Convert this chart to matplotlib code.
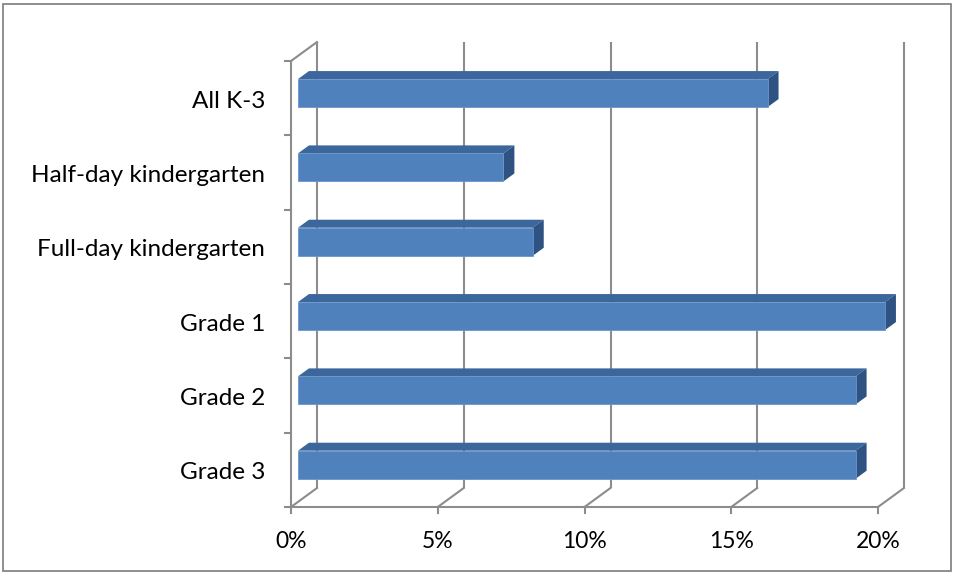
import matplotlib
matplotlib.use("Agg")
import matplotlib.pyplot as plt
from matplotlib.patches import Polygon, Rectangle
from matplotlib.transforms import offset_copy

# Share of students, by group (percent)
categories = ["All K-3", "Half-day kindergarten", "Full-day kindergarten",
              "Grade 1", "Grade 2", "Grade 3"]
values = [16, 7, 8, 20, 19, 19]
xticks = [0, 5, 10, 15, 20]
xtick_labels = ["0%", "5%", "10%", "15%", "20%"]

W, H = 955, 575
fig = plt.figure(figsize=(W / 100, H / 100), dpi=100)
ax = fig.add_axes([0, 0, 1, 1])
ax.set_axis_off()

# front plane placement in pixels
x0_px, y0_px = 291, 507
px_per_pct = 29.35
px_per_cat = 74.33
ax.set_xlim(-x0_px / px_per_pct, (W - x0_px) / px_per_pct)
ax.set_ylim((y0_px - H) / px_per_cat, y0_px / px_per_cat)

# depth vector of the 3-D box (data units)
Dx, Dy = 26 / px_per_pct, 19 / px_per_cat
n = len(categories)
xmax = xticks[-1]

grid_c = "#8C8C8C"
lw = 1.5
font = "Lato"

# back wall gridlines and floor lines
for xv, lab in zip(xticks, xtick_labels):
    ax.plot([xv + Dx, xv + Dx], [Dy, n + Dy], color=grid_c, lw=lw, zorder=1,
            solid_capstyle="butt")
    ax.plot([xv, xv + Dx], [0, Dy], color=grid_c, lw=lw, zorder=1)
    ax.plot([xv, xv], [0, -6 / px_per_cat], color=grid_c, lw=lw, zorder=1)
    ax.text(xv, -41 / px_per_cat, lab, ha="center", va="baseline",
            fontsize=16.5, family=font, color="#000000")

# left wall and front axes
ax.plot([0, 0], [0, n], color=grid_c, lw=lw, zorder=1)
ax.plot([0, Dx], [n, n + Dy], color=grid_c, lw=lw, zorder=1)
ax.plot([0, xmax], [0, 0], color=grid_c, lw=lw, zorder=1)
for k in range(n + 1):
    ax.plot([0, -6 / px_per_pct], [k, k], color=grid_c, lw=lw, zorder=1)

# bars
d0, d1 = 0.27, 0.69
bh = 0.377
front_c, top_c, side_c = "#4F81BD", "#3C679C", "#2E5282"
lab_tr = offset_copy(ax.transData, fig=fig, x=-26, y=-9.5, units="dots")
for k, (cat, v) in enumerate(zip(categories, values)):
    i = n - 1 - k
    ox, oy = d0 * Dx, d0 * Dy
    ddx, ddy = (d1 - d0) * Dx, (d1 - d0) * Dy
    xl, xr = 0 + ox, v + ox
    yb = i + (1 - bh) / 2 + oy
    yt = yb + bh
    ax.add_patch(Polygon([(xl, yt), (xr, yt), (xr + ddx, yt + ddy), (xl + ddx, yt + ddy)],
                         closed=True, facecolor=top_c, edgecolor="none", zorder=3))
    ax.add_patch(Polygon([(xr, yb), (xr, yt), (xr + ddx, yt + ddy), (xr + ddx, yb + ddy)],
                         closed=True, facecolor=side_c, edgecolor="none", zorder=3))
    ax.add_patch(Rectangle((xl, yb), xr - xl, yt - yb, facecolor=front_c,
                           edgecolor="#6A95C8", lw=0.6, zorder=4))
    ax.text(0, i + 0.5, cat, transform=lab_tr, ha="right", va="baseline",
            fontsize=17.5, family=font, color="#000000")

# chart area border
fig.patches.append(Rectangle((3 / W, 4 / H), (W - 7) / W, (H - 8) / H,
                             transform=fig.transFigure, fill=False,
                             edgecolor="#868686", lw=1.3))

fig.savefig("out.png", dpi=100)
